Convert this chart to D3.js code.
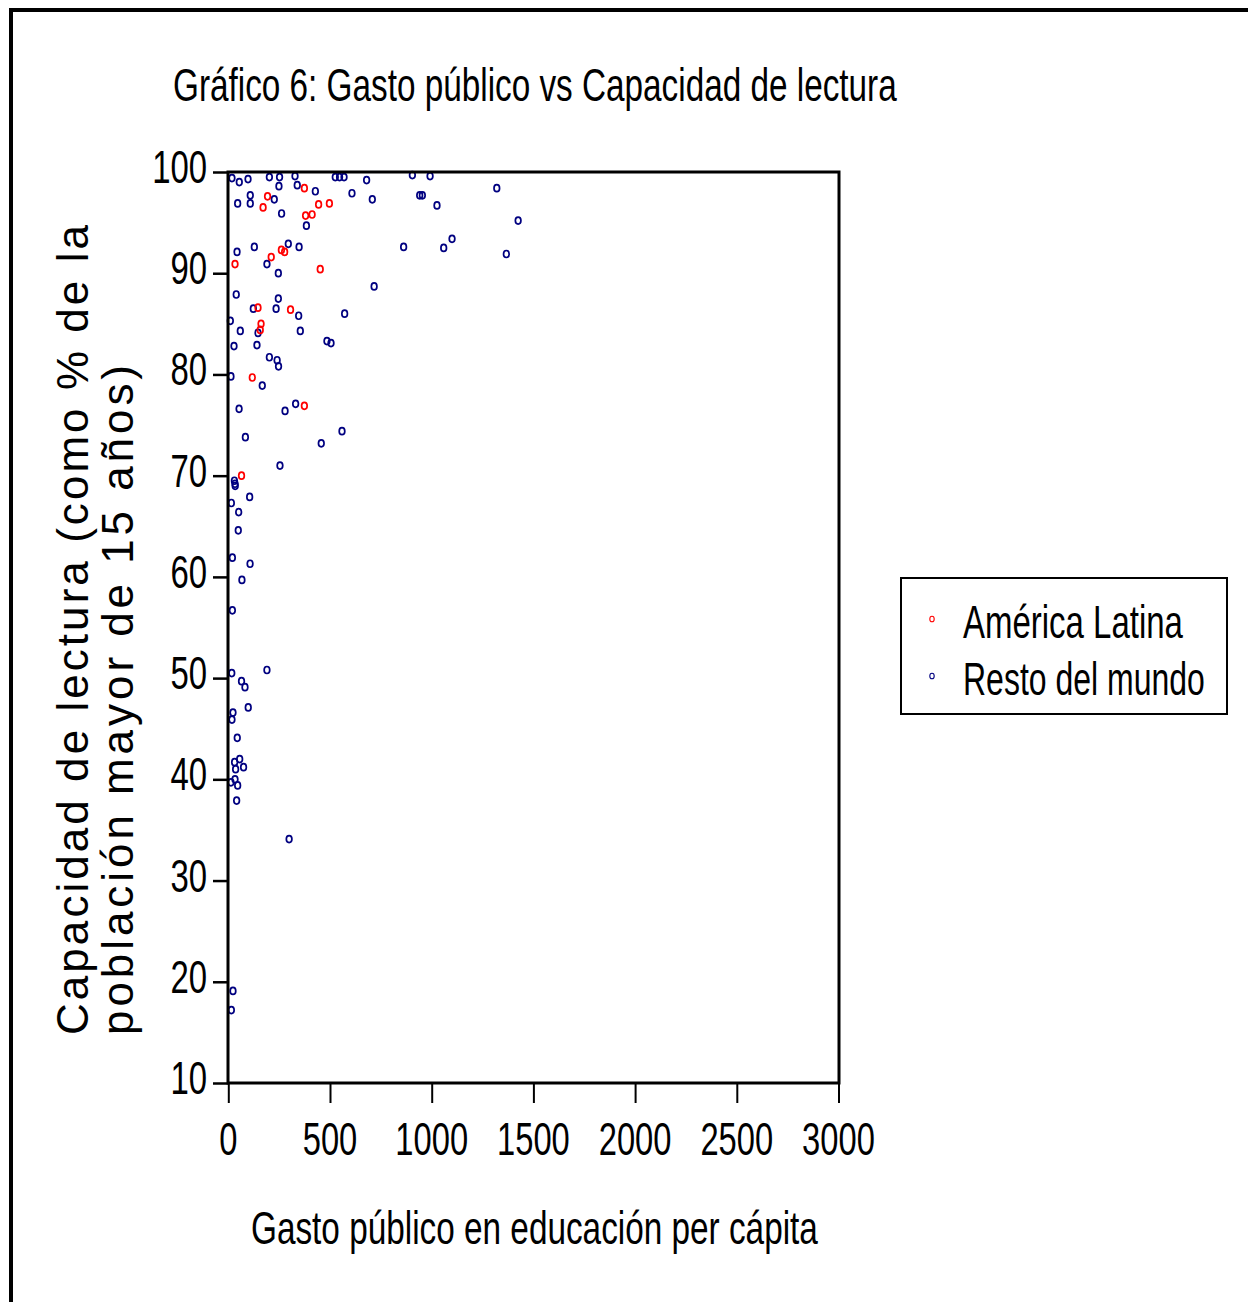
<!DOCTYPE html>
<html>
<head>
<meta charset="utf-8">
<script src="https://cdn.jsdelivr.net/npm/d3@7"></script>
<style>
  html, body { margin: 0; padding: 0; background: #fff; }
  svg { display: block; }
  text { font-family: "Liberation Sans Narrow", "Liberation Sans", Arial, sans-serif; fill: #000; }
</style>
</head>
<body>
<svg id="chart" width="1248" height="1302"></svg>
<script>
// ---- Data ----
const titleText = "Gráfico 6: Gasto público vs Capacidad de lectura";
const xTitle = "Gasto público en educación per cápita";
const yTitleLines = ["Capacidad de lectura (como % de la", "población mayor de 15 años)"];
const seriesNames = ["América Latina", "Resto del mundo"];
const xTicks = [0, 500, 1000, 1500, 2000, 2500, 3000];
const yTicks = [10, 20, 30, 40, 50, 60, 70, 80, 90, 100];

// América Latina: [gasto per cápita, capacidad de lectura]
const latamX = [374, 193, 171, 444, 497, 380, 412, 33, 261, 277, 211, 452, 146, 306, 161, 157, 118, 374, 65];
const latamY = [98.4, 97.6, 96.5, 96.8, 96.9, 95.7, 95.8, 90.9, 92.3, 92.1, 91.6, 90.4, 86.6, 86.4, 85.0, 84.4, 79.7, 76.9, 70.0];

// Resto del mundo
const restX = [18, 54, 97, 202, 252, 328, 249, 339, 428, 108, 46, 108, 226, 262, 384, 526, 547, 569, 608, 680,
  708, 905, 941, 954, 992, 1026, 1320, 1425, 1100, 1059, 1367, 862, 43, 128, 295, 348, 190, 246, 717, 39,
  246, 123, 235, 346, 572, 10, 59, 146, 354, 485, 505, 28, 141, 202, 240, 247, 13, 167, 53, 279,
  331, 559, 457, 84, 254, 30, 33, 34, 105, 15, 51, 49, 20, 107, 67, 20, 17, 190, 65, 82,
  98, 23, 18, 44, 31, 56, 36, 75, 33, 13, 46, 41, 299, 23, 15];
const restY = [99.4, 99.0, 99.3, 99.5, 99.5, 99.6, 98.6, 98.7, 98.1, 97.7, 96.9, 96.9, 97.3, 95.9, 94.7, 99.5, 99.5, 99.5, 97.9, 99.2,
  97.3, 99.7, 97.7, 97.7, 99.6, 96.7, 98.4, 95.2, 93.4, 92.5, 91.9, 92.6, 92.1, 92.6, 92.9, 92.6, 90.9, 90.0, 88.7, 87.9,
  87.5, 86.5, 86.5, 85.8, 86.0, 85.3, 84.3, 84.1, 84.3, 83.3, 83.1, 82.8, 82.9, 81.7, 81.4, 80.8, 79.8, 78.9, 76.6, 76.4,
  77.1, 74.4, 73.2, 73.8, 71.0, 69.5, 69.2, 69.0, 67.9, 67.3, 66.4, 64.6, 61.9, 61.3, 59.7, 56.7, 50.5, 50.8, 49.7, 49.1,
  47.1, 46.6, 45.9, 44.1, 41.7, 42.0, 41.0, 41.2, 40.0, 39.7, 39.4, 37.9, 34.1, 19.1, 17.2];

const colors = ["#ff0000", "#000080"];

// ---- Layout ----
const svg = d3.select("#chart");
const plot = { left: 228, right: 839, top: 172, bottom: 1083 };

const x = d3.scaleLinear().domain([0, 3000]).range([228.3, 838.5]);
const y = d3.scaleLinear().domain([10, 100]).range([plot.bottom, plot.top]);

// helper: draw text at a given size, then squeeze horizontally to a target width
function fitText(parent, str, px, py, size, width, anchor) {
  const t = parent.append("text")
    .attr("font-size", size)
    .attr("text-anchor", anchor || "start")
    .text(str);
  const natural = t.node().getComputedTextLength();
  const sx = natural > 0 ? width / natural : 1;
  t.attr("transform", `translate(${px},${py}) scale(${sx},1)`);
  return t;
}

// outer frame (continues past right / bottom edges)
svg.append("path")
  .attr("d", "M11,1310 L11,10 L1260,10")
  .attr("fill", "none").attr("stroke", "#000").attr("stroke-width", 4);

// title
fitText(svg, titleText, 173, 101, 47, 724);

// axes (ticks only; labels drawn separately to control compression)
const yAxis = d3.axisLeft(y).tickValues(yTicks).tickSize(15).tickFormat("");
const gy = svg.append("g").attr("transform", `translate(${plot.left},0)`).call(yAxis);
gy.select(".domain").remove();
gy.selectAll(".tick line").attr("stroke", "#000").attr("stroke-width", 2.5);

const xAxis = d3.axisBottom(x).tickValues(xTicks).tickSize(20).tickFormat("");
const gx = svg.append("g").attr("transform", `translate(0,${plot.bottom})`).call(xAxis);
gx.select(".domain").remove();
gx.selectAll(".tick line").attr("stroke", "#000").attr("stroke-width", 2);

// y tick labels
const gyl = svg.append("g");
yTicks.forEach(d => fitText(gyl, String(d), 207, y(d) + 11, 47, String(d).length * 18.3, "end"));

// x tick labels
const gxl = svg.append("g");
xTicks.forEach(d => fitText(gxl, String(d), x(d), 1155, 47, String(d).length * 18.2, "middle"));

// x title
fitText(svg, xTitle, 251, 1244, 47, 567);

// y title (two rotated lines with wide letter spacing)
const yTitleX = [88, 133];
const yTitleLen = [810, 670];
yTitleLines.forEach((t, i) => {
  svg.append("text")
    .attr("transform", `translate(${yTitleX[i]},1035) rotate(-90)`)
    .attr("x", 0).attr("y", 0)
    .attr("font-size", 44)
    .style("font-family", "'Liberation Sans', Arial, sans-serif")
    .attr("textLength", yTitleLen[i]).attr("lengthAdjust", "spacing")
    .text(t);
});

// points
const latam = latamX.map((v, i) => [v, latamY[i]]);
const rest = restX.map((v, i) => [v, restY[i]]);

const gp = svg.append("g");
gp.selectAll("ellipse.rest").data(rest).join("ellipse")
  .attr("class", "rest")
  .attr("cx", d => x(d[0])).attr("cy", d => y(d[1]))
  .attr("rx", 2.8).attr("ry", 3.5)
  .attr("fill", "none").attr("stroke", colors[1]).attr("stroke-width", 1.7);
gp.selectAll("ellipse.latam").data(latam).join("ellipse")
  .attr("class", "latam")
  .attr("cx", d => x(d[0])).attr("cy", d => y(d[1]))
  .attr("rx", 2.8).attr("ry", 3.5)
  .attr("fill", "none").attr("stroke", colors[0]).attr("stroke-width", 1.7);

// plot box
svg.append("rect")
  .attr("x", plot.left).attr("y", plot.top)
  .attr("width", plot.right - plot.left).attr("height", plot.bottom - plot.top)
  .attr("fill", "none").attr("stroke", "#000").attr("stroke-width", 3);

// legend
const lg = svg.append("g");
lg.append("rect")
  .attr("x", 901).attr("y", 578).attr("width", 326).attr("height", 136)
  .attr("fill", "none").attr("stroke", "#000").attr("stroke-width", 2);
const legY = [619, 676];
const legTextY = [638, 695];
const legLen = [220, 242];
seriesNames.forEach((n, i) => {
  lg.append("ellipse")
    .attr("cx", 932).attr("cy", legY[i]).attr("rx", 2.2).attr("ry", 2.8)
    .attr("fill", "none").attr("stroke", colors[i]).attr("stroke-width", 1.1);
  fitText(lg, n, 963, legTextY[i], 47, legLen[i]);
});
</script>
</body>
</html>
